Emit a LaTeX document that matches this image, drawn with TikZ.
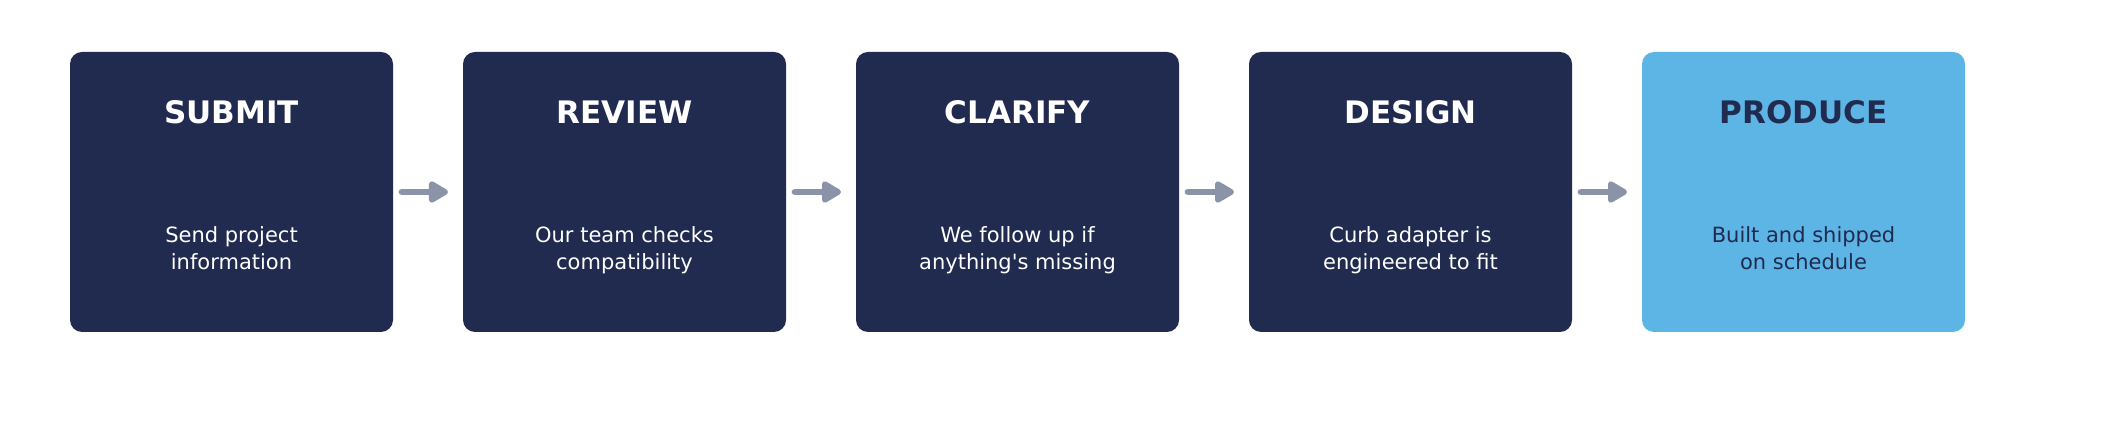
\documentclass[tikz,border=0pt]{standalone}
\usepackage{fontspec}
\setmainfont{DejaVu Sans}
\usepackage{xcolor}
\usetikzlibrary{arrows.meta}
\usetikzlibrary{positioning}

\definecolor{navy}{HTML}{212A4F}
\definecolor{skyblue}{HTML}{5DB5E5}
\definecolor{arrowgray}{HTML}{8A93A8}

\begin{document}
\begin{tikzpicture}[-{Triangle[length=11pt,width=12pt,round]}, line width=3.4pt,
                line cap=round, shorten <=4.5pt, shorten >=7.5pt,
                stage/.style={rectangle,rounded corners=6pt,fill=navy,draw=none,
                  minimum width=161.5pt,minimum height=140pt,inner sep=0pt,outer sep=0pt},
                title/.style={font=\fontsize{15.5}{18}\selectfont\bfseries,text=white},
                body/.style={font=\fontsize{10.5}{13.5}\selectfont,text=white,align=center,anchor=base}]

      \useasboundingbox (0,0) rectangle (1052pt,216.5pt);

      \node[stage] (S1) at (115.75pt,120.5pt) {};
      \node[stage] (S2) [right=35pt of S1] {};
      \node[stage] (S3) [right=35pt of S2] {};
      \node[stage] (S4) [right=35pt of S3] {};
      \node[stage, fill=skyblue] (S5) [right=35pt of S4] {};

      \node[title] (T1) at ([yshift=40pt]S1.center) {SUBMIT};
      \node[title] (T2) at ([yshift=40pt]S2.center) {REVIEW};
      \node[title] (T3) at ([yshift=40pt]S3.center) {CLARIFY};
      \node[title] (T4) at ([yshift=40pt]S4.center) {DESIGN};
      \node[title, text=navy] (T5) at ([yshift=40pt]S5.center) {PRODUCE};

      \node[body] (B1) at ([yshift=-39pt]S1.center) {Send project\\information};
      \node[body] (B2) at ([yshift=-39pt]S2.center) {Our team checks\\compatibility};
      \node[body] (B3) at ([yshift=-39pt]S3.center) {We follow up if\\anything\textquotesingle s missing};
      \node[body] (B4) at ([yshift=-39pt]S4.center) {Curb adapter is\\engineered to fit};
      \node[body, text=navy] (B5) at ([yshift=-39pt]S5.center) {Built and shipped\\on schedule};

      \draw[arrowgray] (S1) -- (S2);
      \draw[arrowgray] (S2) -- (S3);
      \draw[arrowgray] (S3) -- (S4);
      \draw[arrowgray] (S4) -- (S5);
  \end{tikzpicture}
\end{document}
